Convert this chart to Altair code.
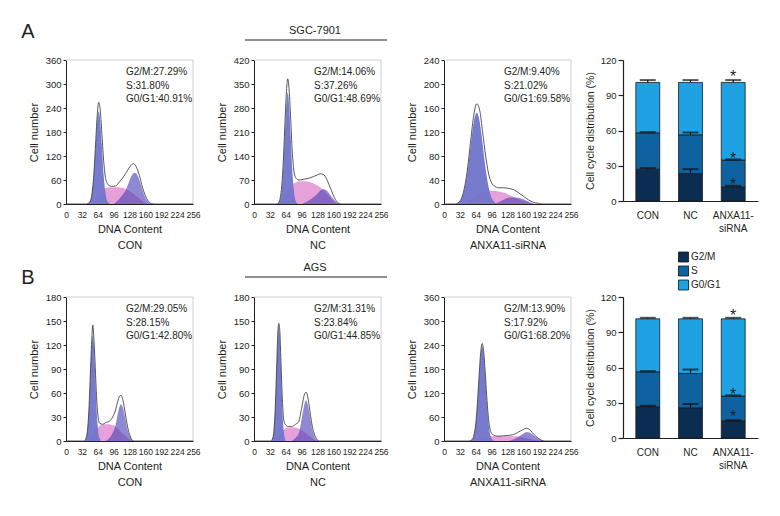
import altair as alt
import pandas as pd

FONT = "Liberation Sans, Arial, sans-serif"
INK = "#231f20"
PINK = "#e6a0da"
G1_COLOR = "#6f74cb"
G2_COLOR = "#4b40b4"
ENV_COLOR = "#2e2e2e"
FRAME = "#cfcfcf"

# ---------------- histogram curves: DNA content (x) vs cell number (y) ----------------
# Row A (SGC-7901) - CON
A_CON_G1_X = [42, 48, 52, 56, 60, 63, 66, 69, 72, 76, 80, 84, 90]
A_CON_G1_Y = [0, 5, 23, 71, 151, 209, 232, 209, 151, 71, 23, 5, 0]
A_CON_S_X = [54, 60, 66, 72, 80, 90, 100, 110, 118, 126, 134, 142, 150, 158, 166]
A_CON_S_Y = [0, 8, 20, 32, 40, 42, 42, 41, 39, 34, 27, 19, 11, 4, 0]
A_CON_G2_X = [96, 104, 112, 120, 126, 132, 138, 144, 150, 156, 162, 168, 174]
A_CON_G2_Y = [0, 8, 20, 34, 52, 70, 78, 72, 52, 28, 11, 3, 0]
A_CON_ENV_X = [0, 40, 48, 52, 56, 60, 63, 66, 69, 72, 76, 80, 86, 92, 100, 108, 116, 124, 130, 136, 142, 148, 154, 160, 166, 172, 180, 256]
A_CON_ENV_Y = [0, 0, 5, 23, 72, 159, 224, 254, 235, 183, 107, 63, 47, 44, 45, 56, 68, 84, 95, 101, 92, 71, 42, 21, 7, 1, 0, 0]

# Row A - NC
A_NC_G1_X = [46, 50, 53, 56, 59, 62, 65, 68, 71, 74, 77, 80, 83, 86, 90]
A_NC_G1_Y = [0, 4, 14, 44, 104, 198, 286, 325, 286, 198, 104, 44, 14, 4, 0]
A_NC_S_X = [50, 56, 62, 68, 76, 84, 92, 100, 108, 116, 124, 132, 140, 148, 156, 164, 172]
A_NC_S_Y = [0, 10, 25, 40, 55, 63, 66, 66, 65, 62, 57, 50, 40, 28, 15, 5, 0]
A_NC_G2_X = [96, 104, 112, 120, 128, 134, 140, 146, 152, 158, 164, 170, 176]
A_NC_G2_Y = [0, 5, 12, 20, 30, 40, 44, 40, 30, 18, 8, 2, 0]
A_NC_ENV_X = [0, 44, 50, 53, 56, 59, 62, 65, 68, 71, 74, 77, 80, 84, 90, 100, 110, 120, 128, 134, 140, 146, 152, 158, 164, 170, 176, 256]
A_NC_ENV_Y = [0, 0, 4, 19, 54, 122, 223, 319, 365, 330, 247, 157, 102, 77, 70, 72, 75, 80, 85, 88, 86, 74, 54, 32, 13, 3, 0, 0]

# Row A - ANXA11-siRNA
A_SI_G1_X = [26, 30, 34, 38, 42, 46, 50, 54, 58, 62, 66, 70, 74, 78, 82, 86, 90, 94, 98, 102, 106]
A_SI_G1_Y = [0, 3, 7, 15, 28, 47, 71, 99, 126, 145, 152, 145, 126, 99, 71, 47, 28, 15, 7, 3, 0]
A_SI_S_X = [40, 50, 60, 70, 80, 90, 100, 110, 120, 130, 140, 150, 160, 170, 180, 190]
A_SI_S_Y = [0, 5, 12, 18, 21, 22, 22, 21, 19, 16, 12, 8, 5, 2, 1, 0]
A_SI_G2_X = [100, 110, 120, 128, 136, 144, 152, 160, 168, 176, 184]
A_SI_G2_Y = [0, 3, 7, 10, 11, 11, 10, 8, 5, 2, 0]
A_SI_ENV_X = [0, 22, 30, 38, 46, 54, 60, 66, 72, 78, 84, 90, 96, 102, 110, 120, 130, 140, 150, 160, 170, 180, 190, 200, 256]
A_SI_ENV_Y = [0, 0, 3, 16, 50, 107, 148, 167, 156, 119, 80, 50, 35, 30, 27, 27, 26, 24, 19, 13, 7, 3, 1, 0, 0]

# Row B (AGS) - CON
B_CON_G1_X = [38, 40, 42, 44, 46, 48, 50, 52, 54, 56, 58, 60, 62, 64, 66, 68, 70]
B_CON_G1_Y = [0, 3, 7, 18, 36, 64, 95, 121, 131, 121, 95, 64, 36, 18, 7, 3, 0]
B_CON_S_X = [44, 50, 56, 62, 68, 74, 80, 86, 92, 98, 104, 110, 116, 122, 128, 134]
B_CON_S_Y = [0, 4, 9, 15, 19, 21, 21, 21, 20, 19, 16, 12, 8, 5, 2, 0]
B_CON_G2_X = [80, 88, 94, 100, 104, 108, 111, 114, 118, 122, 126, 130, 134, 138]
B_CON_G2_Y = [0, 4, 10, 20, 33, 43, 46, 43, 33, 20, 10, 4, 1, 0]
B_CON_ENV_X = [0, 36, 40, 44, 46, 48, 50, 52, 54, 56, 58, 60, 62, 64, 68, 74, 80, 88, 94, 100, 104, 108, 111, 114, 118, 122, 126, 130, 136, 256]
B_CON_ENV_Y = [0, 0, 3, 18, 37, 66, 99, 127, 145, 130, 106, 77, 51, 34, 22, 21, 23, 25, 30, 39, 49, 56, 57, 53, 40, 25, 13, 5, 0, 0]

# Row B - NC
B_NC_G1_X = [36, 38, 40, 42, 44, 46, 48, 50, 52, 54, 56, 58, 60, 62, 64]
B_NC_G1_Y = [0, 4, 12, 29, 59, 96, 130, 143, 130, 96, 59, 29, 12, 4, 0]
B_NC_S_X = [40, 46, 52, 58, 64, 70, 76, 82, 88, 94, 100, 106, 112, 118, 124, 130]
B_NC_S_Y = [0, 3, 8, 13, 16, 17, 17, 17, 16, 14, 12, 9, 6, 3, 1, 0]
B_NC_G2_X = [76, 84, 90, 96, 99, 102, 105, 108, 111, 114, 117, 120, 123, 126, 132]
B_NC_G2_Y = [0, 4, 9, 27, 38, 47, 51, 47, 38, 27, 16, 9, 4, 2, 0]
B_NC_ENV_X = [0, 34, 38, 40, 42, 44, 46, 48, 50, 52, 54, 56, 58, 60, 64, 70, 76, 84, 90, 96, 99, 102, 105, 108, 111, 114, 117, 120, 126, 132, 256]
B_NC_ENV_Y = [0, 0, 4, 12, 30, 61, 99, 135, 147, 138, 106, 70, 42, 26, 20, 18, 18, 21, 24, 41, 51, 59, 61, 56, 45, 32, 20, 12, 3, 0, 0]

# Row B - ANXA11-siRNA
B_SI_G1_X = [53, 56, 59, 62, 65, 68, 71, 74, 77, 80, 83, 86, 89, 92, 95, 98, 101]
B_SI_G1_Y = [0, 3, 9, 24, 54, 104, 164, 216, 237, 216, 164, 104, 54, 24, 9, 3, 0]
B_SI_S_X = [60, 70, 80, 90, 100, 110, 120, 130, 140, 150, 160, 170, 180, 190, 200]
B_SI_S_Y = [0, 4, 8, 11, 12, 12, 12, 12, 12, 11, 9, 6, 3, 1, 0]
B_SI_G2_X = [130, 140, 148, 154, 160, 166, 172, 178, 184, 190, 196, 204]
B_SI_G2_Y = [0, 4, 9, 14, 19, 22, 21, 17, 11, 6, 2, 0]
B_SI_ENV_X = [0, 50, 56, 59, 62, 65, 68, 71, 74, 77, 80, 83, 86, 89, 92, 95, 100, 108, 120, 130, 140, 148, 154, 160, 166, 172, 178, 184, 190, 196, 204, 256]
B_SI_ENV_Y = [0, 0, 3, 9, 25, 56, 107, 169, 222, 244, 224, 173, 114, 65, 35, 21, 15, 12, 13, 14, 16, 21, 25, 29, 32, 29, 21, 13, 7, 2, 0, 0]

X_TICKS = [0, 32, 64, 96, 128, 160, 192, 224, 256]

STATS = {
    "A_CON": ["G2/M:27.29%", "S:31.80%", "G0/G1:40.91%"],
    "A_NC": ["G2/M:14.06%", "S:37.26%", "G0/G1:48.69%"],
    "A_SI": ["G2/M:9.40%", "S:21.02%", "G0/G1:69.58%"],
    "B_CON": ["G2/M:29.05%", "S:28.15%", "G0/G1:42.80%"],
    "B_NC": ["G2/M:31.31%", "S:23.84%", "G0/G1:44.85%"],
    "B_SI": ["G2/M:13.90%", "S:17.92%", "G0/G1:68.20%"],
}
Y_MAX = {"A_CON": 360, "A_NC": 420, "A_SI": 240, "B_CON": 180, "B_NC": 180, "B_SI": 360}
Y_STEP = {"A_CON": 60, "A_NC": 70, "A_SI": 40, "B_CON": 30, "B_NC": 30, "B_SI": 60}
COND = {"CON": "CON", "NC": "NC", "SI": "ANXA11-siRNA"}

# ---------------- bar chart data ----------------
GROUPS = ["CON", "NC", "ANXA11-siRNA"]
PHASES = ["G2/M", "S", "G0/G1"]
PHASE_COLORS = ["#0b2d52", "#0f62a0", "#1ea2e3"]
BAR_TICKS = [0, 30, 60, 90, 120]

A_G2M = [27.1, 23.4, 12.0]
A_S = [30.9, 32.9, 22.9]
A_G0G1 = [42.9, 44.6, 66.0]
A_ERR_G2M = [0.9, 3.7, 0.9]
A_ERR_S = [0.6, 2.0, 0.5]
A_ERR_G0G1 = [2.0, 2.0, 2.0]
A_STARS = [109.0, 39.4, 17.0]

B_G2M = [26.6, 25.7, 14.6]
B_S = [29.7, 29.2, 21.1]
B_G0G1 = [45.1, 46.5, 65.7]
B_ERR_G2M = [0.8, 3.2, 0.5]
B_ERR_S = [0.6, 3.4, 0.6]
B_ERR_G0G1 = [0.9, 0.9, 0.9]
B_STARS = [107.0, 39.7, 21.4]

# ---------------- build tables ----------------
CURVES = {}
for row in ["A", "B"]:
    for c in ["CON", "NC", "SI"]:
        key = f"{row}_{c}"
        for comp in ["G1", "S", "G2", "ENV"]:
            CURVES[(key, comp)] = (globals()[f"{key}_{comp}_X"], globals()[f"{key}_{comp}_Y"])

recs = []
for (key, comp), (xs, ys) in CURVES.items():
    for xv, yv in zip(xs, ys):
        recs.append({"panel": key, "comp": comp, "x": xv, "y": yv})
hist_df = pd.DataFrame(recs)
ONE = pd.DataFrame({"k": [0]})

PW, PH = 127, 144  # histogram plot size


def note(text, x, y, size=12, align="center", baseline="alphabetic"):
    return alt.Chart(ONE).mark_text(text=text, fontSize=size, font=FONT, color=INK,
                                    align=align, baseline=baseline).encode(
        x=alt.value(x), y=alt.value(y))


def hline(x1, x2, y, color=INK, w=1.0):
    return alt.Chart(ONE).mark_rule(color=color, strokeWidth=w).encode(
        x=alt.value(x1), x2=alt.value(x2), y=alt.value(y))


def vline(x, y1, y2, color=FRAME, w=1.0):
    return alt.Chart(ONE).mark_rule(color=color, strokeWidth=w).encode(
        x=alt.value(x), y=alt.value(y1), y2=alt.value(y2))


def hist(key, cell_width, extras):
    ymax = Y_MAX[key]
    cond = COND[key.split("_")[1]]
    d = hist_df[hist_df["panel"] == key]
    xe = alt.X("x:Q", scale=alt.Scale(domain=[0, 256], nice=False, range=[0, PW]),
               axis=alt.Axis(values=X_TICKS, title=["DNA Content", cond], ticks=False, tickSize=0,
                             labelPadding=6, labelOverlap=False, labelFlush=False, labelFontSize=8.5,
                             titlePadding=5, titleLineHeight=16))
    ye = alt.Y("y:Q", scale=alt.Scale(domain=[0, ymax], nice=False),
               axis=alt.Axis(values=list(range(0, ymax + 1, Y_STEP[key])), title="Cell number",
                             tickSize=3, labelPadding=2, titlePadding=6, labelFontSize=9.5,
                             labelOverlap=False))
    base = alt.Chart(d)
    layers = [
        hline(0, PW, 0, color=FRAME),
        vline(PW, 0, PH),
        base.transform_filter(alt.datum.comp == "S").mark_area(color=PINK, interpolate="monotone").encode(x=xe, y=ye),
        base.transform_filter(alt.datum.comp == "G2").mark_area(color=G2_COLOR, opacity=0.62, interpolate="monotone").encode(x=xe, y=ye),
        base.transform_filter(alt.datum.comp == "G1").mark_area(color=G1_COLOR, opacity=0.95, interpolate="monotone").encode(x=xe, y=ye),
        base.transform_filter(alt.datum.comp == "ENV").mark_line(color=ENV_COLOR, strokeWidth=0.8, interpolate="monotone").encode(x=xe, y=ye),
        alt.Chart(ONE).mark_text(text=STATS[key], fontSize=10, font=FONT, color=INK, align="left",
                                 baseline="top", lineHeight=13.5).encode(x=alt.value(60), y=alt.value(7)),
    ] + extras
    return alt.layer(*layers).properties(width=cell_width, height=PH)


def bar_panel(g2m, s, g01, e_g2m, e_s, e_g01, stars, show_legend):
    brec, erec = [], []
    for i, g in enumerate(GROUPS):
        vals = [g2m[i], s[i], g01[i]]
        errs = [e_g2m[i], e_s[i], e_g01[i]]
        top = 0.0
        for j, ph in enumerate(PHASES):
            brec.append({"group": g, "phase": ph, "value": vals[j], "ord": j})
            top += vals[j]
            erec.append({"group": g, "top": top, "hi": top + errs[j]})
    bdf = pd.DataFrame(brec)
    edf = pd.DataFrame(erec)
    sdf = pd.DataFrame({"group": [GROUPS[2]] * len(stars), "y": stars})

    xe = alt.X("group:N", sort=GROUPS,
               scale=alt.Scale(domain=GROUPS, paddingInner=0.44, paddingOuter=0.3),
               axis=alt.Axis(title=None, labelAngle=0, ticks=False, tickSize=0, labelPadding=9,
                             labelLineHeight=13, domainWidth=1.2, labelFontSize=10,
                             labelExpr="datum.label == 'ANXA11-siRNA' ? ['ANXA11-', 'siRNA'] : datum.label"))
    yscale = alt.Scale(domain=[0, 120], nice=False)
    yaxis = alt.Axis(values=BAR_TICKS, tickCount=5, title="Cell cycle distribution (%)",
                     tickSize=5, labelPadding=2, titlePadding=5, domainWidth=1.2, tickWidth=1.2,
                     labelFontSize=9.5, titleFontSize=10.5, labelOverlap=False)
    if show_legend:
        leg = alt.Legend(orient="none", legendX=55, legendY=-46, title=None, symbolType="square",
                         symbolSize=100, symbolStrokeColor="#111111", symbolStrokeWidth=0.8,
                         labelFont=FONT, labelFontSize=10, labelColor=INK, rowPadding=2,
                         clipHeight=12, labelOffset=2, padding=0)
    else:
        leg = None
    bars = alt.Chart(bdf).mark_bar(stroke="#1a1a1a", strokeWidth=0.8).encode(
        x=xe,
        y=alt.Y("value:Q", stack="zero", scale=yscale, axis=yaxis),
        color=alt.Color("phase:N", sort=PHASES, scale=alt.Scale(domain=PHASES, range=PHASE_COLORS), legend=leg),
        order=alt.Order("ord:Q"),
    )
    err = alt.Chart(edf).mark_rule(color="#111111", strokeWidth=1.2).encode(
        x=xe, y=alt.Y("top:Q", scale=yscale, axis=yaxis), y2="hi:Q")
    caps = alt.Chart(edf).mark_tick(color="#111111", orient="horizontal", size=16, thickness=2).encode(
        x=xe, y=alt.Y("hi:Q", scale=yscale, axis=yaxis))
    star = alt.Chart(sdf).mark_text(text="*", fontSize=16, font=FONT, color=INK, baseline="middle", dy=4).encode(
        x=xe, y=alt.Y("y:Q", scale=yscale, axis=yaxis))
    return alt.layer(bars, err, caps, star).properties(width=135, height=141)


anchor = alt.Chart(ONE).mark_rule(color="white", strokeWidth=1).encode(
    x=alt.value(-57), x2=alt.value(-56), y=alt.value(-51))

# cell widths chosen so that plot areas start at the reference positions with one column spacing
hA1 = hist("A_CON", 136, [anchor, note("A", -38, -22, size=20)])
hA2 = hist("A_NC", 138, [note("SGC-7901", 61, -26, size=11), hline(-9, 133, -20)])
hA3 = hist("A_SI", 127, [])
hB1 = hist("B_CON", 136, [note("B", -38, -13, size=20)])
hB2 = hist("B_NC", 138, [note("AGS", 61, -26, size=11), hline(-9, 133, -20)])
hB3 = hist("B_SI", 127, [])

barA = bar_panel(A_G2M, A_S, A_G0G1, A_ERR_G2M, A_ERR_S, A_ERR_G0G1, A_STARS, False)
barB = bar_panel(B_G2M, B_S, B_G0G1, B_ERR_G2M, B_ERR_S, B_ERR_G0G1, B_STARS, True)

chart = alt.concat(hA1, hA2, hA3, barA, hB1, hB2, hB3, barB, columns=4,
                   spacing={"row": 93, "column": 52}, bounds="flush", align="each").resolve_scale(
    color="independent").properties(padding=0).configure(font=FONT).configure_view(
    stroke="transparent").configure_axis(
    grid=False, domainColor=INK, tickColor=INK, labelColor=INK, titleColor=INK,
    labelFont=FONT, titleFont=FONT, labelFontSize=10, titleFontSize=11,
    titleFontWeight="normal")

chart.save("out.html", embed_options={"renderer": "svg", "actions": False})
